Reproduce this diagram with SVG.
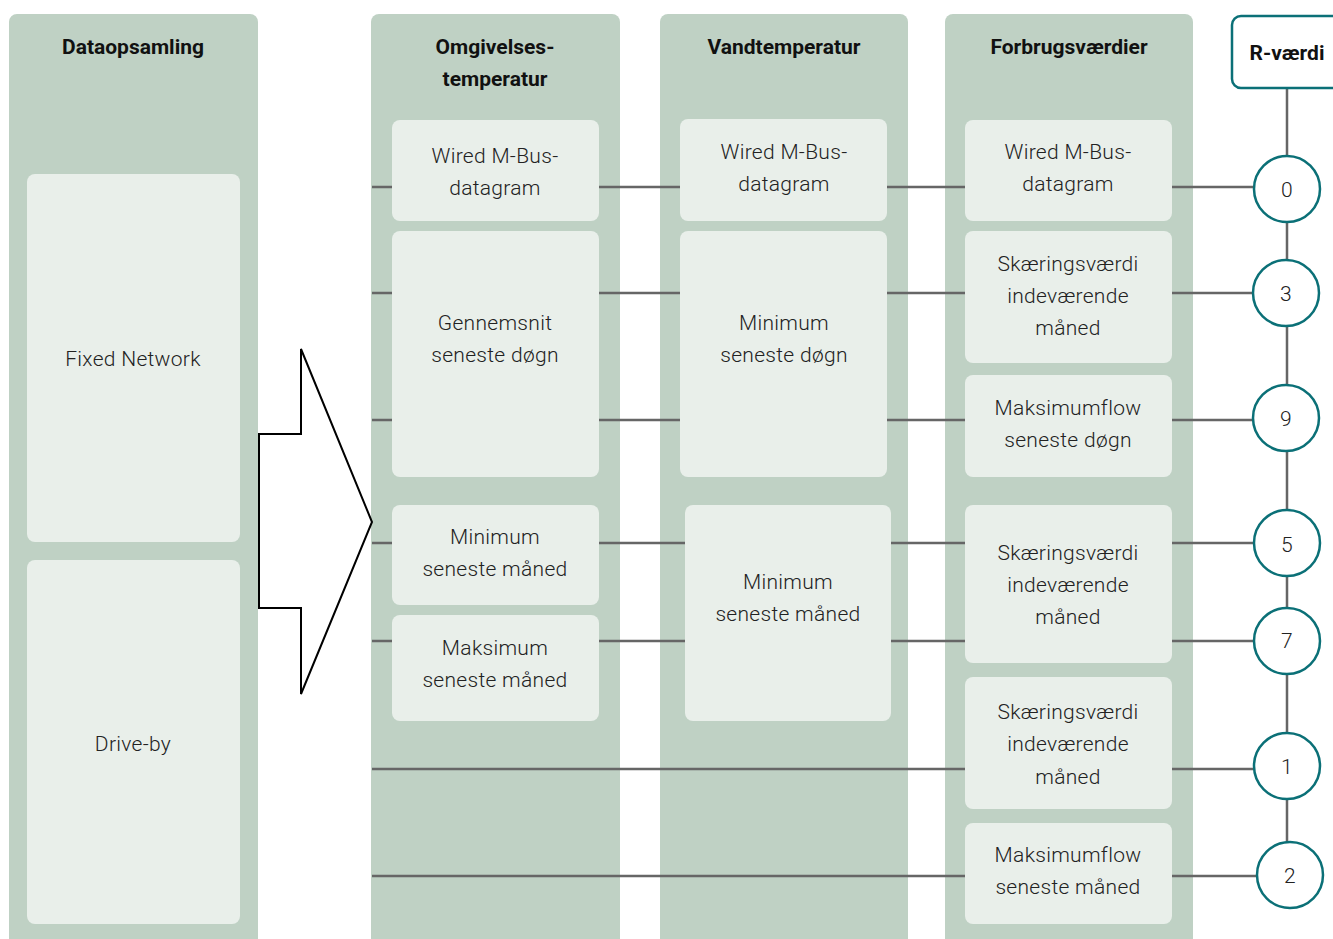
<svg xmlns="http://www.w3.org/2000/svg" width="1333" height="939" viewBox="0 0 1333 939">
<style>
.lane{fill:#bfd1c4}
.box{fill:#e9efea}
.hd{font-family:Roboto,"Liberation Sans",sans-serif;font-weight:700;font-size:21px;fill:#111;text-anchor:middle;dominant-baseline:central}
.t{font-family:Roboto,"Liberation Sans",sans-serif;font-weight:300;font-size:21px;letter-spacing:0.3px;fill:#222;text-anchor:middle;dominant-baseline:central}
.c{fill:#fff;stroke:#0b7077;stroke-width:2.5}
.ln{stroke:#666;stroke-width:2.5;fill:none}
</style>
<rect width="1333" height="939" fill="#fff"/>
<g id="lane-dataopsamling">
<path class="lane" d="M9 22 a8 8 0 0 1 8 -8 H250 a8 8 0 0 1 8 8 V939 H9 Z"/>
<text class="hd" x="133" y="47">Dataopsamling</text>
</g>
<g id="lane-omgivelses">
<path class="lane" d="M371 22 a8 8 0 0 1 8 -8 H612 a8 8 0 0 1 8 8 V939 H371 Z"/>
<text class="hd" x="495" y="47">Omgivelses-</text>
<text class="hd" x="495" y="79">temperatur</text>
</g>
<g id="lane-vand">
<path class="lane" d="M660 22 a8 8 0 0 1 8 -8 H900 a8 8 0 0 1 8 8 V939 H660 Z"/>
<text class="hd" x="784" y="47">Vandtemperatur</text>
</g>
<g id="lane-forbrug">
<path class="lane" d="M945 22 a8 8 0 0 1 8 -8 H1185 a8 8 0 0 1 8 8 V939 H945 Z"/>
<text class="hd" x="1069" y="47">Forbrugsværdier</text>
</g>
<g id="connectors">
<line class="ln" x1="1287" y1="88" x2="1287" y2="842"/>
<path class="ln" d="M372 187H392M599 187H680M887 187H965M1172 187H1254"/>
<path class="ln" d="M372 293H392M599 293H680M887 293H965M1172 293H1254"/>
<path class="ln" d="M372 420H392M599 420H680M887 420H965M1172 420H1254"/>
<path class="ln" d="M372 543H392M599 543H685M891 543H965M1172 543H1254"/>
<path class="ln" d="M372 641H392M599 641H685M891 641H965M1172 641H1254"/>
<path class="ln" d="M372 769H965M1172 769H1254"/>
<path class="ln" d="M372 876H965M1172 876H1257"/>
</g>
<g id="arrow">
<path d="M259 434H301V349L372 522L301 694V608H259Z" fill="#fff" stroke="#000" stroke-width="2"/>
</g>
<g id="fixed-network"><rect class="box" x="27" y="174" width="213" height="368" rx="8"/><text class="t" x="133" y="359">Fixed Network</text></g>
<g id="drive-by"><rect class="box" x="27" y="560" width="213" height="364" rx="8"/><text class="t" x="133" y="744">Drive-by</text></g>
<g id="o-wired"><rect class="box" x="392" y="120" width="207" height="101" rx="8"/><text class="t" x="495" y="156">Wired M-Bus-</text><text class="t" x="495" y="188">datagram</text></g>
<g id="o-gennemsnit"><rect class="box" x="392" y="231" width="207" height="246" rx="8"/><text class="t" x="495" y="323">Gennemsnit</text><text class="t" x="495" y="355">seneste døgn</text></g>
<g id="o-min-maaned"><rect class="box" x="392" y="505" width="207" height="100" rx="8"/><text class="t" x="495" y="537">Minimum</text><text class="t" x="495" y="569">seneste måned</text></g>
<g id="o-maks-maaned"><rect class="box" x="392" y="615" width="207" height="106" rx="8"/><text class="t" x="495" y="648">Maksimum</text><text class="t" x="495" y="680">seneste måned</text></g>
<g id="v-wired"><rect class="box" x="680" y="119" width="207" height="102" rx="8"/><text class="t" x="784" y="152">Wired M-Bus-</text><text class="t" x="784" y="184">datagram</text></g>
<g id="v-min-doegn"><rect class="box" x="680" y="231" width="207" height="246" rx="8"/><text class="t" x="784" y="323">Minimum</text><text class="t" x="784" y="355">seneste døgn</text></g>
<g id="v-min-maaned"><rect class="box" x="685" y="505" width="206" height="216" rx="8"/><text class="t" x="788" y="582">Minimum</text><text class="t" x="788" y="614">seneste måned</text></g>
<g id="f-wired"><rect class="box" x="965" y="120" width="207" height="101" rx="8"/><text class="t" x="1068" y="152">Wired M-Bus-</text><text class="t" x="1068" y="184">datagram</text></g>
<g id="f-skaer1"><rect class="box" x="965" y="231" width="207" height="132" rx="8"/><text class="t" x="1068" y="264">Skæringsværdi</text><text class="t" x="1068" y="296">indeværende</text><text class="t" x="1068" y="328">måned</text></g>
<g id="f-maks-doegn"><rect class="box" x="965" y="375" width="207" height="102" rx="8"/><text class="t" x="1068" y="408">Maksimumflow</text><text class="t" x="1068" y="440">seneste døgn</text></g>
<g id="f-skaer2"><rect class="box" x="965" y="505" width="207" height="158" rx="8"/><text class="t" x="1068" y="553">Skæringsværdi</text><text class="t" x="1068" y="585">indeværende</text><text class="t" x="1068" y="617">måned</text></g>
<g id="f-skaer3"><rect class="box" x="965" y="677" width="207" height="132" rx="8"/><text class="t" x="1068" y="712">Skæringsværdi</text><text class="t" x="1068" y="744">indeværende</text><text class="t" x="1068" y="777">måned</text></g>
<g id="f-maks-maaned"><rect class="box" x="965" y="823" width="207" height="101" rx="8"/><text class="t" x="1068" y="855">Maksimumflow</text><text class="t" x="1068" y="887">seneste måned</text></g>
<g id="r-vaerdi"><rect x="1232" y="16" width="120" height="72" rx="9" fill="#fff" stroke="#0b7077" stroke-width="2.5"/><text class="hd" x="1287" y="53">R-værdi</text></g>
<g id="r0"><circle class="c" cx="1287" cy="189" r="33"/><text class="t" x="1287" y="190">0</text></g>
<g id="r3"><circle class="c" cx="1286" cy="293" r="33"/><text class="t" x="1286" y="294">3</text></g>
<g id="r9"><circle class="c" cx="1286" cy="418" r="33"/><text class="t" x="1286" y="419">9</text></g>
<g id="r5"><circle class="c" cx="1287" cy="543" r="33"/><text class="t" x="1287" y="545">5</text></g>
<g id="r7"><circle class="c" cx="1287" cy="641" r="33"/><text class="t" x="1287" y="641">7</text></g>
<g id="r1"><circle class="c" cx="1287" cy="766" r="33"/><text class="t" x="1287" y="767">1</text></g>
<g id="r2"><circle class="c" cx="1290" cy="875" r="33"/><text class="t" x="1290" y="876">2</text></g>
</svg>
